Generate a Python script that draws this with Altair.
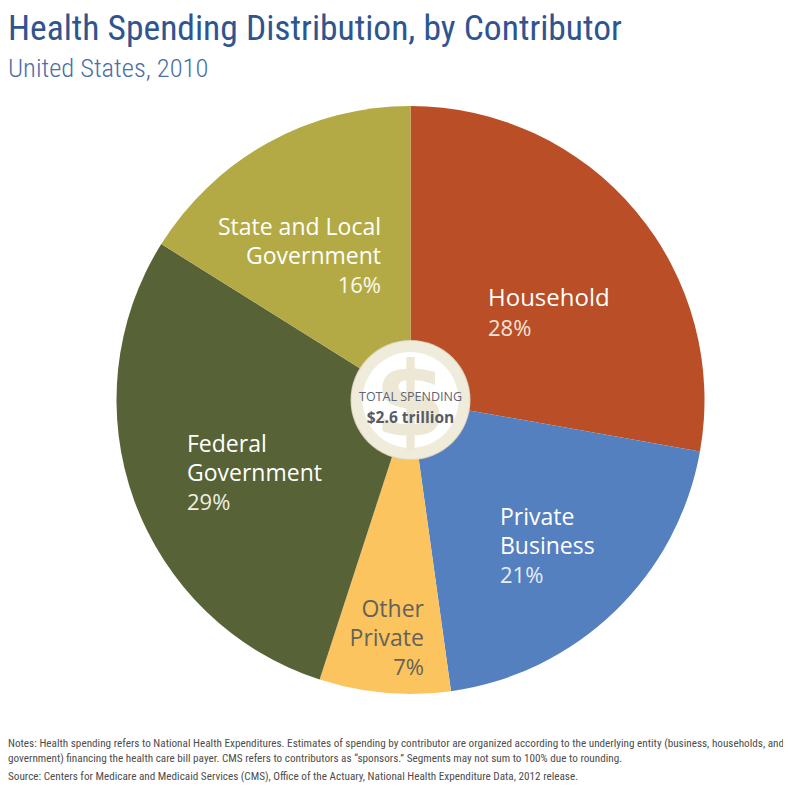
import altair as alt
import pandas as pd

contributors = ["Household", "Private Business", "Other Private", "Federal Government", "State and Local Government"]
shares = [27.8, 20.0, 7.2, 28.9, 16.1]
colors = ["#b94e27", "#5580c0", "#fcc45f", "#586237", "#b3aa46"]
ranks = [1, 2, 3, 4, 5]

OX, OY = 8, 8
CX, CY, R = 410.5 - OX, 400 - OY, 294


def text(s, x, y, size, color, font="Open Sans", align="left", weight=400):
    return alt.Chart(alt.Data(values=[{}])).mark_text(
        font=font, fontSize=size, color=color, align=align, baseline="alphabetic",
        fontWeight=weight
    ).encode(x=alt.value(x - OX), y=alt.value(y - OY), text=alt.value(s))


def disc(r0, r1, color):
    return alt.Chart(alt.Data(values=[{}])).mark_arc(
        innerRadius=r0, outerRadius=r1, theta=0, theta2=6.2832, color=color
    ).encode(x=alt.value(CX), y=alt.value(CY))


df = pd.DataFrame({"name": contributors, "share": shares, "rank": ranks})
pie = alt.Chart(df).mark_arc(outerRadius=R, innerRadius=0).encode(
    theta=alt.Theta("share:Q", stack=True),
    order=alt.Order("rank:Q"),
    color=alt.Color("name:N", scale=alt.Scale(domain=contributors, range=colors), legend=None),
    x=alt.value(CX),
    y=alt.value(CY),
)

TITLE = "#2f5590"
NOTE = "#4d4d4d"
NARROW = "Roboto Condensed"
layers = [
    pie,
    disc(0, 60, "#d9d5bd"),
    disc(0, 59, "#efecdc"),
    disc(0, 48, "#ffffff"),
    text("$", 410.5, 436, 104, "#ece8d5", font="DejaVu Sans", align="center", weight=700),
    text("TOTAL SPENDING", 410.5, 401, 12.5, "#5f6472", align="center"),
    text("$2.6 trillion", 410.5, 423, 15.5, "#565b68", align="center", weight=700),
    text("Health Spending Distribution, by Contributor", 8, 40, 35.5, TITLE, font=NARROW),
    text("United States, 2010", 8, 77, 26.5, "#4a6ea6", font=NARROW, weight=300),
    text("Household", 488, 306, 24, "#ffffff"),
    text("28%", 488, 336, 22, "#f7e3d8"),
    text("Private", 500, 525, 23, "#ffffff"),
    text("Business", 500, 554, 23, "#ffffff"),
    text("21%", 500, 583, 22, "#e6edf7"),
    text("Other", 424, 617, 23, "#65625a", align="right"),
    text("Private", 424, 646, 23, "#65625a", align="right"),
    text("7%", 424, 675, 22, "#65625a", align="right"),
    text("Federal", 187, 452, 23, "#ffffff"),
    text("Government", 187, 481, 23, "#ffffff"),
    text("29%", 187, 510, 22, "#eef0e4"),
    text("State and Local", 381, 235, 23, "#ffffff", align="right"),
    text("Government", 381, 264, 23, "#ffffff", align="right"),
    text("16%", 381, 293, 22, "#fbf9ea", align="right"),
    text("Notes: Health spending refers to National Health Expenditures. Estimates of spending by contributor are organized according to the underlying entity (business, households, and", 8, 747, 11.2, NOTE, font=NARROW),
    text("government) financing the health care bill payer. CMS refers to contributors as \u201csponsors.\u201d Segments may not sum to 100% due to rounding.", 8, 762, 11.2, NOTE, font=NARROW),
    text("Source: Centers for Medicare and Medicaid Services (CMS), Office of the Actuary, National Health Expenditure Data, 2012 release.", 8, 780, 11.2, NOTE, font=NARROW),
]

chart = alt.layer(*layers).properties(
    width=775, height=779, padding=0, autosize=alt.AutoSizeParams(type="none"), background="#ffffff"
).configure_view(stroke=None)

chart.save("out.html", embed_options={"renderer": "svg", "actions": False})
